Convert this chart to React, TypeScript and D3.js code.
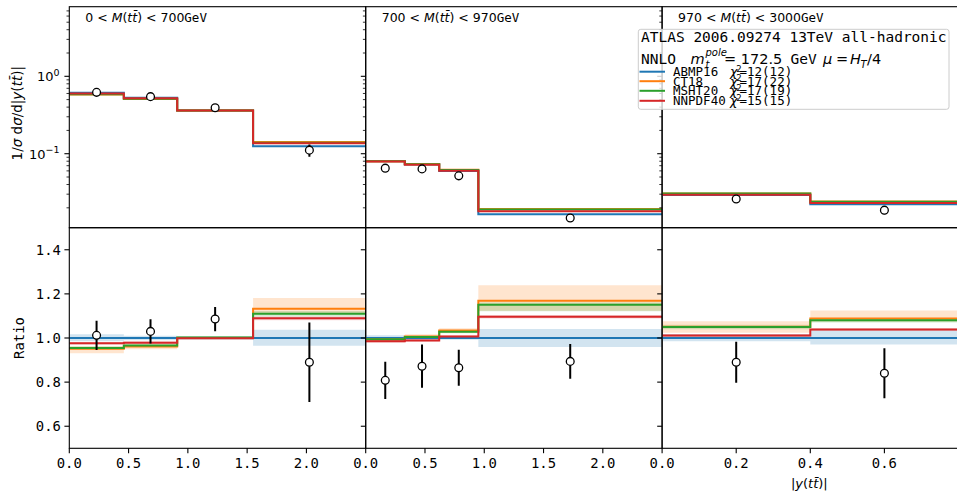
import React from "react";
import * as d3 from "d3";

// PDF sets compared against the measurement
const PDF_NAMES = ["ABMP16", "CT18", "MSHT20", "NNPDF40"];
const PDF_COLORS = ["#1f77b4", "#ff7f0e", "#2ca02c", "#d62728"];
const PDF_CHI2 = ["12(12)", "17(22)", "17(19)", "15(15)"];

// M(tt) slices
const MASS_LO = [0, 700, 970];
const MASS_HI = [700, 970, 3000];

// |y(tt)| binning per mass slice
const BIN_EDGES = [
  [0, 0.46, 0.91, 1.55, 2.5],
  [0, 0.33, 0.62, 0.95, 2.5],
  [0, 0.4, 0.8],
];
const X_MAX = [2.5, 2.5, 0.8];
const X_TICKS = [
  [0, 0.5, 1.0, 1.5, 2.0],
  [0, 0.5, 1.0, 1.5, 2.0],
  [0, 0.2, 0.4, 0.6],
];

// ABMP16 prediction, 1/sigma dsigma/d|y|
const ABMP16_XSEC = [
  [0.613, 0.53, 0.362, 0.125],
  [0.0805, 0.073, 0.0598, 0.0165],
  [0.0292, 0.0222],
];

// predictions relative to ABMP16
const RATIO_ABMP16 = [
  [1, 1, 1, 1],
  [1, 1, 1, 1],
  [1, 1],
];
const RATIO_CT18 = [
  [0.951, 0.961, 1.0, 1.133],
  [0.994, 1.007, 1.034, 1.169],
  [1.051, 1.088],
];
const RATIO_MSHT20 = [
  [0.955, 0.966, 1.002, 1.11],
  [0.994, 1.004, 1.028, 1.151],
  [1.05, 1.08],
];
const RATIO_NNPDF40 = [
  [0.976, 0.979, 0.999, 1.089],
  [0.985, 0.989, 1.007, 1.096],
  [1.011, 1.038],
];
const RATIOS = [RATIO_ABMP16, RATIO_CT18, RATIO_MSHT20, RATIO_NNPDF40];

// scale-uncertainty bands (upper / lower offsets, in ratio units)
const BAND_UP_ABMP16 = [[0.017, 0.01, 0.008, 0.037], [0.012, 0.01, 0.008, 0.041], [0.017, 0.035]];
const BAND_DN_ABMP16 = [[0.015, 0.01, 0.008, 0.035], [0.012, 0.01, 0.008, 0.041], [0.015, 0.03]];
const BAND_UP_CT18 = [[0.012, 0.01, 0.006, 0.048], [0.008, 0.01, 0.01, 0.07], [0.025, 0.037]];
const BAND_DN_CT18 = [[0.02, 0.012, 0.006, 0.02], [0.008, 0.01, 0.01, 0.045], [0.027, 0.013]];
const BAND_UP_MSHT20 = [[0.006, 0.006, 0.005, 0.012], [0.006, 0.006, 0.006, 0.01], [0.01, 0.01]];
const BAND_DN_MSHT20 = [[0.006, 0.006, 0.005, 0.012], [0.006, 0.006, 0.006, 0.03], [0.01, 0.01]];
const BAND_UP_NNPDF40 = [[0.006, 0.006, 0.004, 0.008], [0.005, 0.005, 0.005, 0.008], [0.006, 0.006]];
const BAND_DN_NNPDF40 = [[0.006, 0.006, 0.004, 0.008], [0.005, 0.005, 0.005, 0.008], [0.006, 0.006]];
const BANDS_UP = [BAND_UP_ABMP16, BAND_UP_CT18, BAND_UP_MSHT20, BAND_UP_NNPDF40];
const BANDS_DN = [BAND_DN_ABMP16, BAND_DN_CT18, BAND_DN_MSHT20, BAND_DN_NNPDF40];

// measurement relative to ABMP16, with relative total uncertainty
const DATA_RATIO = [
  [1.012, 1.03, 1.086, 0.89],
  [0.808, 0.872, 0.865, 0.894],
  [0.89, 0.84],
];
const DATA_ERR = [
  [0.066, 0.055, 0.055, 0.18],
  [0.084, 0.098, 0.082, 0.079],
  [0.093, 0.113],
];

const RATIO_TICKS = [0.6, 0.8, 1.0, 1.2, 1.4];
const LOG_MAJOR = [1, 0.1];
const LOG_MINOR = [0.02, 0.03, 0.04, 0.05, 0.06, 0.07, 0.08, 0.09, 0.2, 0.3, 0.4, 0.5, 0.6, 0.7, 0.8, 0.9, 2, 3, 4, 5, 6, 7];

const W = 957;
const H = 494;
const PANEL_X = [69.3, 365.7, 662.1];
const PANEL_W = 296.4;
const Y_TOP = 6.7;
const Y_MID = 227.7;
const Y_BOT = 448.3;

const MONO = "'DejaVu Sans Mono', monospace";
const SANS = "'DejaVu Sans', sans-serif";
const TICK_FS = 13.9;

const yLog = d3.scaleLog().domain([0.01107, 7.93]).range([Y_MID, Y_TOP]);
const yRatio = d3.scaleLinear().domain([0.5, 1.5]).range([Y_BOT, Y_MID]);
const fmt1 = d3.format(".1f");

function stepPoints(edges: number[], vals: number[]): [number, number][] {
  return edges.map((e, i) => [e, vals[Math.min(i, vals.length - 1)]] as [number, number]);
}

function Panel({ p }: { p: number }) {
  const x = d3.scaleLinear().domain([0, X_MAX[p]]).range([PANEL_X[p], PANEL_X[p] + PANEL_W]);
  const edges = BIN_EDGES[p];
  const centers = edges.slice(0, -1).map((e, i) => (e + edges[i + 1]) / 2);
  const base = ABMP16_XSEC[p];

  const lineTop = d3
    .line<[number, number]>()
    .curve(d3.curveStepAfter)
    .x((d) => x(d[0]))
    .y((d) => yLog(d[1]));
  const lineRatio = d3
    .line<[number, number]>()
    .curve(d3.curveStepAfter)
    .x((d) => x(d[0]))
    .y((d) => yRatio(d[1]));
  const band = d3
    .area<[number, number, number]>()
    .curve(d3.curveStepAfter)
    .x((d) => x(d[0]))
    .y0((d) => yRatio(d[1]))
    .y1((d) => yRatio(d[2]));

  const clipTop = `clip-top-${p}`;
  const clipBot = `clip-bot-${p}`;
  const x0 = PANEL_X[p];

  return (
    <g>
      <defs>
        <clipPath id={clipTop}>
          <rect x={x0} y={Y_TOP} width={PANEL_W} height={Y_MID - Y_TOP} />
        </clipPath>
        <clipPath id={clipBot}>
          <rect x={x0} y={Y_MID} width={PANEL_W} height={Y_BOT - Y_MID} />
        </clipPath>
      </defs>

      {/* upper panel: normalised cross sections */}
      <g clipPath={`url(#${clipTop})`}>
        {PDF_NAMES.map((name, k) => {
          const vals = base.map((b, i) => b * RATIOS[k][p][i]);
          return (
            <path key={name} d={lineTop(stepPoints(edges, vals)) || ""} fill="none" stroke={PDF_COLORS[k]} strokeWidth={2} />
          );
        })}
        {centers.map((c, i) => {
          const v = base[i] * DATA_RATIO[p][i];
          const e = v * DATA_ERR[p][i];
          return (
            <g key={i}>
              <line x1={x(c)} x2={x(c)} y1={yLog(v + e)} y2={yLog(v - e)} stroke="#000" strokeWidth={2} />
              <circle cx={x(c)} cy={yLog(v)} r={3.9} fill="#fff" stroke="#000" strokeWidth={1.3} />
            </g>
          );
        })}
      </g>

      {/* lower panel: ratio to ABMP16 */}
      <g clipPath={`url(#${clipBot})`}>
        {PDF_NAMES.map((name, k) => {
          const r = RATIOS[k][p];
          const pts = edges.map((e, i) => {
            const j = Math.min(i, r.length - 1);
            return [e, r[j] - BANDS_DN[k][p][j], r[j] + BANDS_UP[k][p][j]] as [number, number, number];
          });
          return <path key={name} d={band(pts) || ""} fill={PDF_COLORS[k]} fillOpacity={0.2} stroke="none" />;
        })}
        {PDF_NAMES.map((name, k) => (
          <path key={name} d={lineRatio(stepPoints(edges, RATIOS[k][p])) || ""} fill="none" stroke={PDF_COLORS[k]} strokeWidth={2} />
        ))}
        {centers.map((c, i) => {
          const v = DATA_RATIO[p][i];
          const e = DATA_ERR[p][i];
          return (
            <g key={i}>
              <line x1={x(c)} x2={x(c)} y1={yRatio(v + e)} y2={yRatio(v - e)} stroke="#000" strokeWidth={2} />
              <circle cx={x(c)} cy={yRatio(v)} r={3.9} fill="#fff" stroke="#000" strokeWidth={1.3} />
            </g>
          );
        })}
      </g>

      {/* frames */}
      <rect x={x0} y={Y_TOP} width={PANEL_W} height={Y_MID - Y_TOP} fill="none" stroke="#000" strokeWidth={1.1} />
      <rect x={x0} y={Y_MID} width={PANEL_W} height={Y_BOT - Y_MID} fill="none" stroke="#000" strokeWidth={1.1} />

      {/* y ticks, upper panel (log) */}
      {LOG_MAJOR.map((t) => (
        <line key={"M" + t} x1={x0 - 4.9} x2={x0} y1={yLog(t)} y2={yLog(t)} stroke="#000" strokeWidth={1.1} />
      ))}
      {LOG_MINOR.map((t) => (
        <line key={"m" + t} x1={x0 - 2.8} x2={x0} y1={yLog(t)} y2={yLog(t)} stroke="#000" strokeWidth={0.8} />
      ))}
      {p === 0 &&
        LOG_MAJOR.map((t) => {
          const exp = Math.round(Math.log10(t));
          return (
            <text key={"L" + t} x={x0 - 9.8} y={yLog(t) + 5} textAnchor="end" fontFamily={SANS} fontSize={13}>
              <tspan>10</tspan>
              <tspan fontSize={9.5} dy={-5.5}>
                {exp < 0 ? "\u2212" + Math.abs(exp) : String(exp)}
              </tspan>
            </text>
          );
        })}

      {/* y ticks, ratio panel */}
      {RATIO_TICKS.map((t) => (
        <line key={"r" + t} x1={x0 - 4.9} x2={x0} y1={yRatio(t)} y2={yRatio(t)} stroke="#000" strokeWidth={1.1} />
      ))}
      {p === 0 &&
        RATIO_TICKS.map((t) => (
          <text key={"rl" + t} x={x0 - 8.4} y={yRatio(t) + 5} textAnchor="end" fontFamily={MONO} fontSize={TICK_FS}>
            {fmt1(t)}
          </text>
        ))}

      {/* x ticks */}
      {X_TICKS[p].map((t) => (
        <g key={"x" + t}>
          <line x1={x(t)} x2={x(t)} y1={Y_BOT} y2={Y_BOT + 4.9} stroke="#000" strokeWidth={1.1} />
          <text x={x(t)} y={Y_BOT + 19.5} textAnchor="middle" fontFamily={MONO} fontSize={TICK_FS}>
            {fmt1(t)}
          </text>
        </g>
      ))}

      {/* mass slice label */}
      <text x={x0 + 16} y={21.5} fontFamily={SANS} fontSize={12.5}>
        {MASS_LO[p]} &lt; <tspan fontStyle="italic">M</tspan>(<tspan fontStyle="italic">t</tspan>
        <tspan fontStyle="italic">{"t\u0304"}</tspan>) &lt; {MASS_HI[p]}
        <tspan fontFamily={MONO}>GeV</tspan>
      </text>
    </g>
  );
}

function Legend() {
  const lx = 638.3;
  const ly = 29.3;
  const rowY = [71.7, 81.2, 90.8, 100.8];
  return (
    <g>
      <rect x={lx} y={ly} width={310.7} height={80} rx={2.5} fill="#fff" fillOpacity={0.8} stroke="#cccccc" strokeWidth={1} />
      <text x={641} y={42.3} fontFamily={MONO} fontSize={14.5}>
        ATLAS 2006.09274 13TeV all-hadronic
      </text>
      <text y={64} fontSize={14.5}>
        <tspan x={641} fontFamily={MONO}>NNLO</tspan>
        <tspan x={690.5} fontFamily={SANS} fontStyle="italic">m</tspan>
        <tspan x={705.5} y={55.5} fontFamily={SANS} fontStyle="italic" fontSize={10}>pole</tspan>
        <tspan x={705.5} y={67.5} fontFamily={SANS} fontStyle="italic" fontSize={10}>t</tspan>
        <tspan x={724} y={64} fontFamily={SANS}>= 172.5</tspan>
        <tspan x={790.5} fontFamily={MONO}>GeV</tspan>
        <tspan x={823} fontFamily={SANS} fontStyle="italic">μ</tspan>
        <tspan x={836} fontFamily={SANS}>=</tspan>
        <tspan x={850} fontFamily={SANS} fontStyle="italic">H</tspan>
        <tspan x={860.5} y={67.5} fontFamily={SANS} fontStyle="italic" fontSize={10}>T</tspan>
        <tspan x={867} y={64} fontFamily={SANS}>/4</tspan>
      </text>
      {PDF_NAMES.map((name, k) => (
        <g key={name}>
          <line x1={639.5} x2={665} y1={rowY[k]} y2={rowY[k]} stroke={PDF_COLORS[k]} strokeWidth={2} />
          <text x={673} y={rowY[k] + 4.3} fontFamily={MONO} fontSize={12.5}>
            {name}
          </text>
          <text y={rowY[k] + 4.3} fontSize={12.5}>
            <tspan x={730} fontFamily={SANS} fontStyle="italic">χ</tspan>
            <tspan x={736.3} dy={-4.5} fontFamily={SANS} fontSize={8.5}>2</tspan>
            <tspan x={739.5} dy={4.5} fontFamily={MONO}>={PDF_CHI2[k]}</tspan>
          </text>
        </g>
      ))}
    </g>
  );
}

export default function App() {
  return (
    <svg
      width={W}
      height={H}
      viewBox={`0 0 ${W} ${H}`}
      style={{ position: "absolute", left: 0, top: 0, background: "#fff" }}
    >
      <rect x={0} y={0} width={W} height={H} fill="#fff" />
      {[0, 1, 2].map((p) => (
        <Panel key={p} p={p} />
      ))}
      <Legend />

      {/* axis titles */}
      <text transform={`translate(22, ${(Y_TOP + Y_MID) / 2 - 4}) rotate(-90)`} textAnchor="middle" fontFamily={SANS} fontSize={13.5}>
        1/<tspan fontStyle="italic">σ</tspan> d<tspan fontStyle="italic">σ</tspan>/d|<tspan fontStyle="italic">y</tspan>(
        <tspan fontStyle="italic">t</tspan>
        <tspan fontStyle="italic">{"t\u0304"}</tspan>)|
      </text>
      <text transform={`translate(24, ${(Y_MID + Y_BOT) / 2}) rotate(-90)`} textAnchor="middle" fontFamily={MONO} fontSize={TICK_FS}>
        Ratio
      </text>
      <text x={PANEL_X[2] + PANEL_W / 2 - 1} y={488} textAnchor="middle" fontFamily={SANS} fontSize={13}>
        |<tspan fontStyle="italic">y</tspan>(<tspan fontStyle="italic">t</tspan>
        <tspan fontStyle="italic">{"t\u0304"}</tspan>)|
      </text>
    </svg>
  );
}
